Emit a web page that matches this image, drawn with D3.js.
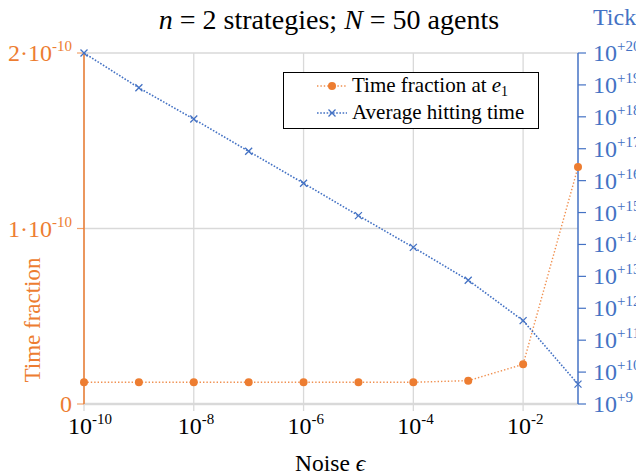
<!DOCTYPE html>
<html>
<head>
<meta charset="utf-8">
<script src="https://cdn.jsdelivr.net/npm/d3@7"></script>
<style>
  html, body { margin: 0; padding: 0; background: #fff; }
  svg text { font-family: "Liberation Serif", "DejaVu Serif", serif; }
</style>
</head>
<body>
<svg id="chart" width="636" height="476"></svg>
<script>
// ---- data ----
const noise = [1e-10, 1e-9, 1e-8, 1e-7, 1e-6, 1e-5, 1e-4, 1e-3, 1e-2, 1e-1];
const timeFraction = [1.24e-11, 1.24e-11, 1.24e-11, 1.24e-11, 1.24e-11, 1.24e-11, 1.24e-11, 1.33e-11, 2.26e-11, 1.35e-10];
const hittingTime = [1.0e20, 8.1e18, 8.5e17, 8.3e16, 8.3e15, 8.0e14, 8.1e13, 7.6e12, 4.1e11, 4.2e9];
const xTickExps = [-10, -8, -6, -4, -2];
const leftTicks = [0, 1e-10, 2e-10];
const leftTickLabels = [["0", ""], ["1·10", "-10"], ["2·10", "-10"]];
const rightTickExps = [9, 10, 11, 12, 13, 14, 15, 16, 17, 18, 19, 20];
const seriesNames = ["Time fraction at ", "Average hitting time"];
const titleParts = ["n", " = 2 strategies; ", "N", " = 50 agents"];

// ---- layout ----
const FONT = "'Liberation Serif', 'DejaVu Serif', serif";
const orange = "#ED7D31", blue = "#4472C4", grid = "#d9d9d9";
const L = 84, R = 578, T = 53, B = 404;
const TICK_FS = 24, SUP_FS = 15, SUP_DY = -10;
const svg = d3.select("#chart").attr("font-family", FONT);

const x = d3.scaleLog().domain([1e-10, 1e-1]).range([L, R]);
const yL = d3.scaleLinear().domain([0, 2e-10]).range([B, T]);
const yR = d3.scaleLog().domain([1e9, 1e20]).range([B, T]);

// gridlines
svg.append("g").selectAll("line").data(xTickExps).join("line")
  .attr("x1", d => x(Math.pow(10, d))).attr("x2", d => x(Math.pow(10, d)))
  .attr("y1", T).attr("y2", B).attr("stroke", grid).attr("stroke-width", 1.3);
svg.append("g").selectAll("line").data(leftTicks).join("line")
  .attr("x1", L).attr("x2", R).attr("y1", d => yL(d)).attr("y2", d => yL(d))
  .attr("stroke", grid).attr("stroke-width", d => d === 0 ? 2.5 : 1.3);

// x axis ticks & labels
const xg = svg.append("g");
xg.selectAll("line").data(xTickExps).join("line")
  .attr("x1", d => x(Math.pow(10, d))).attr("x2", d => x(Math.pow(10, d)))
  .attr("y1", B).attr("y2", B + 7).attr("stroke", grid).attr("stroke-width", 1.3);
xTickExps.forEach(e => {
  const t = xg.append("text").attr("x", x(Math.pow(10, e)) - 16).attr("y", 434)
    .attr("font-size", TICK_FS).attr("fill", "#000");
  t.append("tspan").text("10");
  t.append("tspan").attr("dy", SUP_DY).attr("font-size", SUP_FS).text(String(e));
});
svg.append("text").attr("x", 295).attr("y", 471)
  .attr("font-size", 23.5).attr("fill", "#000")
  .call(t => { t.append("tspan").text("Noise "); t.append("tspan").attr("font-style", "italic").text("\u03F5"); });

// left axis
const lg = svg.append("g");
lg.append("line").attr("x1", L).attr("x2", L).attr("y1", T).attr("y2", B)
  .attr("stroke", orange).attr("stroke-width", 1.5);
lg.selectAll(".tk").data(leftTicks).join("line").attr("class", "tk")
  .attr("x1", L - 7).attr("x2", L).attr("y1", d => yL(d)).attr("y2", d => yL(d))
  .attr("stroke", orange).attr("stroke-width", 1.2).attr("opacity", 0.7);
leftTicks.forEach((v, i) => {
  const t = lg.append("text").attr("x", 72).attr("y", yL(v) + 8)
    .attr("text-anchor", "end").attr("font-size", TICK_FS).attr("fill", orange);
  t.append("tspan").text(leftTickLabels[i][0]);
  if (leftTickLabels[i][1]) t.append("tspan").attr("dy", SUP_DY).attr("font-size", SUP_FS).text(leftTickLabels[i][1]);
});
svg.append("text").attr("transform", "translate(40,320) rotate(-90)")
  .attr("text-anchor", "middle").attr("font-size", 23).attr("fill", orange).text("Time fraction");

// right axis
const rg = svg.append("g");
rg.append("line").attr("x1", R).attr("x2", R).attr("y1", T).attr("y2", B)
  .attr("stroke", blue).attr("stroke-width", 1.5);
rg.selectAll(".tk").data(rightTickExps).join("line").attr("class", "tk")
  .attr("x1", R).attr("x2", R + 8).attr("y1", d => yR(Math.pow(10, d))).attr("y2", d => yR(Math.pow(10, d)))
  .attr("stroke", blue).attr("stroke-width", 1.2);
rightTickExps.forEach(e => {
  const t = rg.append("text").attr("x", 593).attr("y", yR(Math.pow(10, e)) + 8)
    .attr("font-size", TICK_FS).attr("fill", blue);
  t.append("tspan").text("10");
  t.append("tspan").attr("dy", SUP_DY).attr("font-size", SUP_FS).text("+" + e);
});
svg.append("text").attr("x", 593).attr("y", 25).attr("font-size", 24).attr("fill", blue).text("Ticks");

// title
const tt = svg.append("text").attr("x", 329).attr("y", 29).attr("text-anchor", "middle")
  .attr("font-size", 28).attr("fill", "#000");
titleParts.forEach((p, i) => tt.append("tspan").attr("font-style", i % 2 === 0 ? "italic" : "normal").text(p));

// series
const pts = noise.map((n, i) => ({ n, f: timeFraction[i], h: hittingTime[i] }));
svg.append("path").datum(pts)
  .attr("d", d3.line().x(d => x(d.n)).y(d => yL(d.f)))
  .attr("fill", "none").attr("stroke", orange).attr("stroke-width", 1.4)
  .attr("stroke-dasharray", "1.4,2").attr("opacity", 0.85);
svg.append("g").selectAll("circle").data(pts).join("circle")
  .attr("cx", d => x(d.n)).attr("cy", d => yL(d.f)).attr("r", 4).attr("fill", orange);

svg.append("path").datum(pts)
  .attr("d", d3.line().x(d => x(d.n)).y(d => yR(d.h)))
  .attr("fill", "none").attr("stroke", blue).attr("stroke-width", 1.6)
  .attr("stroke-dasharray", "1.6,1.6");
const cross = (g, cx, cy, s) => {
  g.append("path").attr("d", `M${cx - s},${cy - s}L${cx + s},${cy + s}M${cx - s},${cy + s}L${cx + s},${cy - s}`)
    .attr("stroke", blue).attr("stroke-width", 1.3).attr("fill", "none");
};
const cg = svg.append("g");
pts.forEach(d => cross(cg, x(d.n), yR(d.h), 3.5));

// legend
const leg = svg.append("g");
leg.append("rect").attr("x", 283.5).attr("y", 72.5).attr("width", 255).attr("height", 56)
  .attr("fill", "#fff").attr("stroke", "#000").attr("stroke-width", 1);
const rows = [86, 113];
leg.append("line").attr("x1", 317).attr("x2", 347).attr("y1", rows[0]).attr("y2", rows[0])
  .attr("stroke", orange).attr("stroke-width", 1.4).attr("stroke-dasharray", "1.4,2").attr("opacity", 0.85);
leg.append("circle").attr("cx", 332).attr("cy", rows[0]).attr("r", 4).attr("fill", orange);
leg.append("line").attr("x1", 317).attr("x2", 347).attr("y1", rows[1]).attr("y2", rows[1])
  .attr("stroke", blue).attr("stroke-width", 1.6).attr("stroke-dasharray", "1.6,1.6");
cross(leg, 332, rows[1], 3.5);
const l1 = leg.append("text").attr("x", 352).attr("y", rows[0] + 6).attr("font-size", 21).attr("fill", "#000");
l1.append("tspan").text(seriesNames[0]);
l1.append("tspan").attr("font-style", "italic").text("e");
l1.append("tspan").attr("dy", 4).attr("font-size", 14).text("1");
leg.append("text").attr("x", 352).attr("y", rows[1] + 6).attr("font-size", 21).attr("fill", "#000").text(seriesNames[1]);
</script>
</body>
</html>
